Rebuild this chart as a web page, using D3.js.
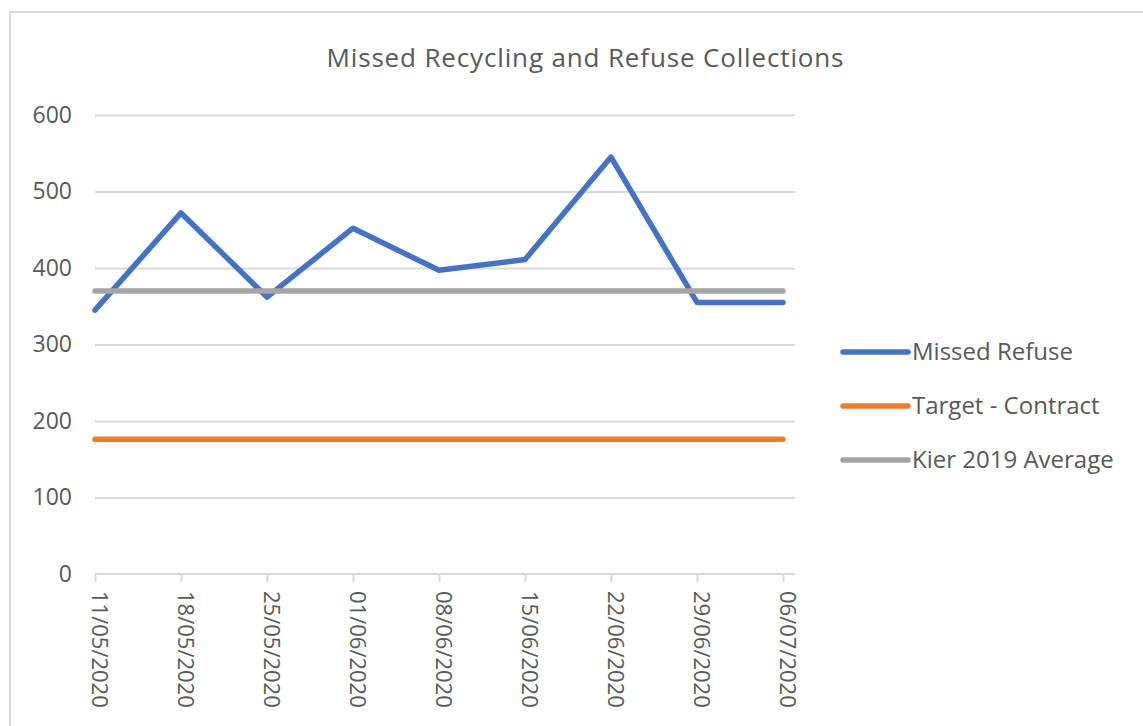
<!DOCTYPE html>
<html>
<head>
<meta charset="utf-8">
<script src="https://cdn.jsdelivr.net/npm/d3@7"></script>
<style>
  body { margin: 0; background: #fff; }
  text { font-family: "Open Sans", "Liberation Sans", sans-serif; fill: #595959; }
</style>
</head>
<body>
<div id="chart"></div>
<script>
// Chart data
const dates = ["11/05/2020", "18/05/2020", "25/05/2020", "01/06/2020", "08/06/2020",
               "15/06/2020", "22/06/2020", "29/06/2020", "06/07/2020"];
const missedRefuse = [345, 472, 362, 452, 397, 411, 545, 355, 355];
const targetContract = [176, 176, 176, 176, 176, 176, 176, 176, 176];
const kierAverage = [370, 370, 370, 370, 370, 370, 370, 370, 370];
const yTicks = [0, 100, 200, 300, 400, 500, 600];
const seriesNames = ["Missed Refuse", "Target - Contract", "Kier 2019 Average"];

const width = 1143;
const height = 726;

const svg = d3.select("#chart").append("svg")
    .attr("width", width)
    .attr("height", height);

// chart frame
svg.append("rect")
    .attr("x", 10).attr("y", 12)
    .attr("width", 1200).attr("height", 800)
    .attr("fill", "#fff")
    .attr("stroke", "#d9d9d9")
    .attr("stroke-width", 2);

const plotLeft = 95, plotRight = 795;

const x = d3.scalePoint()
    .domain(dates)
    .range([95, 783]);

const y = d3.scaleLinear()
    .domain([0, 600])
    .range([574, 115]);

// title
svg.append("text")
    .attr("x", 585)
    .attr("y", 67)
    .attr("text-anchor", "middle")
    .style("font-size", "26px")
    .attr("textLength", 517)
    .attr("lengthAdjust", "spacing")
    .text("Missed Recycling and Refuse  Collections");

// gridlines + y labels
const yAxis = svg.append("g")
    .attr("transform", `translate(${plotLeft},0)`)
    .call(d3.axisLeft(y).tickValues(yTicks).tickSize(-(plotRight - plotLeft)).tickPadding(23));
yAxis.select(".domain").remove();
yAxis.selectAll(".tick line")
    .attr("stroke", d => d === 0 ? "none" : "#d9d9d9")
    .attr("stroke-width", 2);
yAxis.selectAll(".tick text")
    .style("font-size", "23px")
    .style("font-family", "\"Open Sans\", sans-serif")
    .attr("fill", "#595959");

// x axis
const xAxis = svg.append("g")
    .attr("transform", `translate(0,${y(0)})`)
    .call(d3.axisBottom(x).tickSize(8).tickSizeOuter(0));
xAxis.select(".domain")
    .attr("d", `M${plotLeft},0H${plotRight}`)
    .attr("stroke", "#d9d9d9")
    .attr("stroke-width", 2);
xAxis.selectAll(".tick line")
    .attr("stroke", "#d9d9d9")
    .attr("stroke-width", 2);
xAxis.selectAll(".tick text")
    .attr("transform", "rotate(90)")
    .attr("x", 17)
    .attr("y", -4)
    .attr("dy", "0.35em")
    .attr("text-anchor", "start")
    .style("font-size", "22px")
    .style("font-family", "\"Open Sans\", sans-serif")
    .attr("fill", "#595959");

// series lines
const series = [
    { name: seriesNames[0], values: missedRefuse, color: "#4472c4" },
    { name: seriesNames[1], values: targetContract, color: "#ed7d31" },
    { name: seriesNames[2], values: kierAverage, color: "#a5a5a5" }
];

const line = d3.line()
    .x((d, i) => x(dates[i]))
    .y(d => y(d));

// draw in Excel order so blue sits under gray
svg.append("g")
    .selectAll("path")
    .data(series)
    .join("path")
    .attr("d", d => line(d.values))
    .attr("fill", "none")
    .attr("stroke", d => d.color)
    .attr("stroke-width", 5.5)
    .attr("stroke-linejoin", "round")
    .attr("stroke-linecap", "round");

// legend
const legend = svg.append("g")
    .selectAll("g")
    .data(series)
    .join("g")
    .attr("transform", (d, i) => `translate(843,${352 + i * 54})`);

legend.append("line")
    .attr("x1", 0).attr("x2", 65)
    .attr("stroke", d => d.color)
    .attr("stroke-width", 5.5)
    .attr("stroke-linecap", "round");

legend.append("text")
    .attr("x", 69)
    .attr("dy", "0.35em")
    .style("font-size", "24px")
    .text(d => d.name);
</script>
</body>
</html>
